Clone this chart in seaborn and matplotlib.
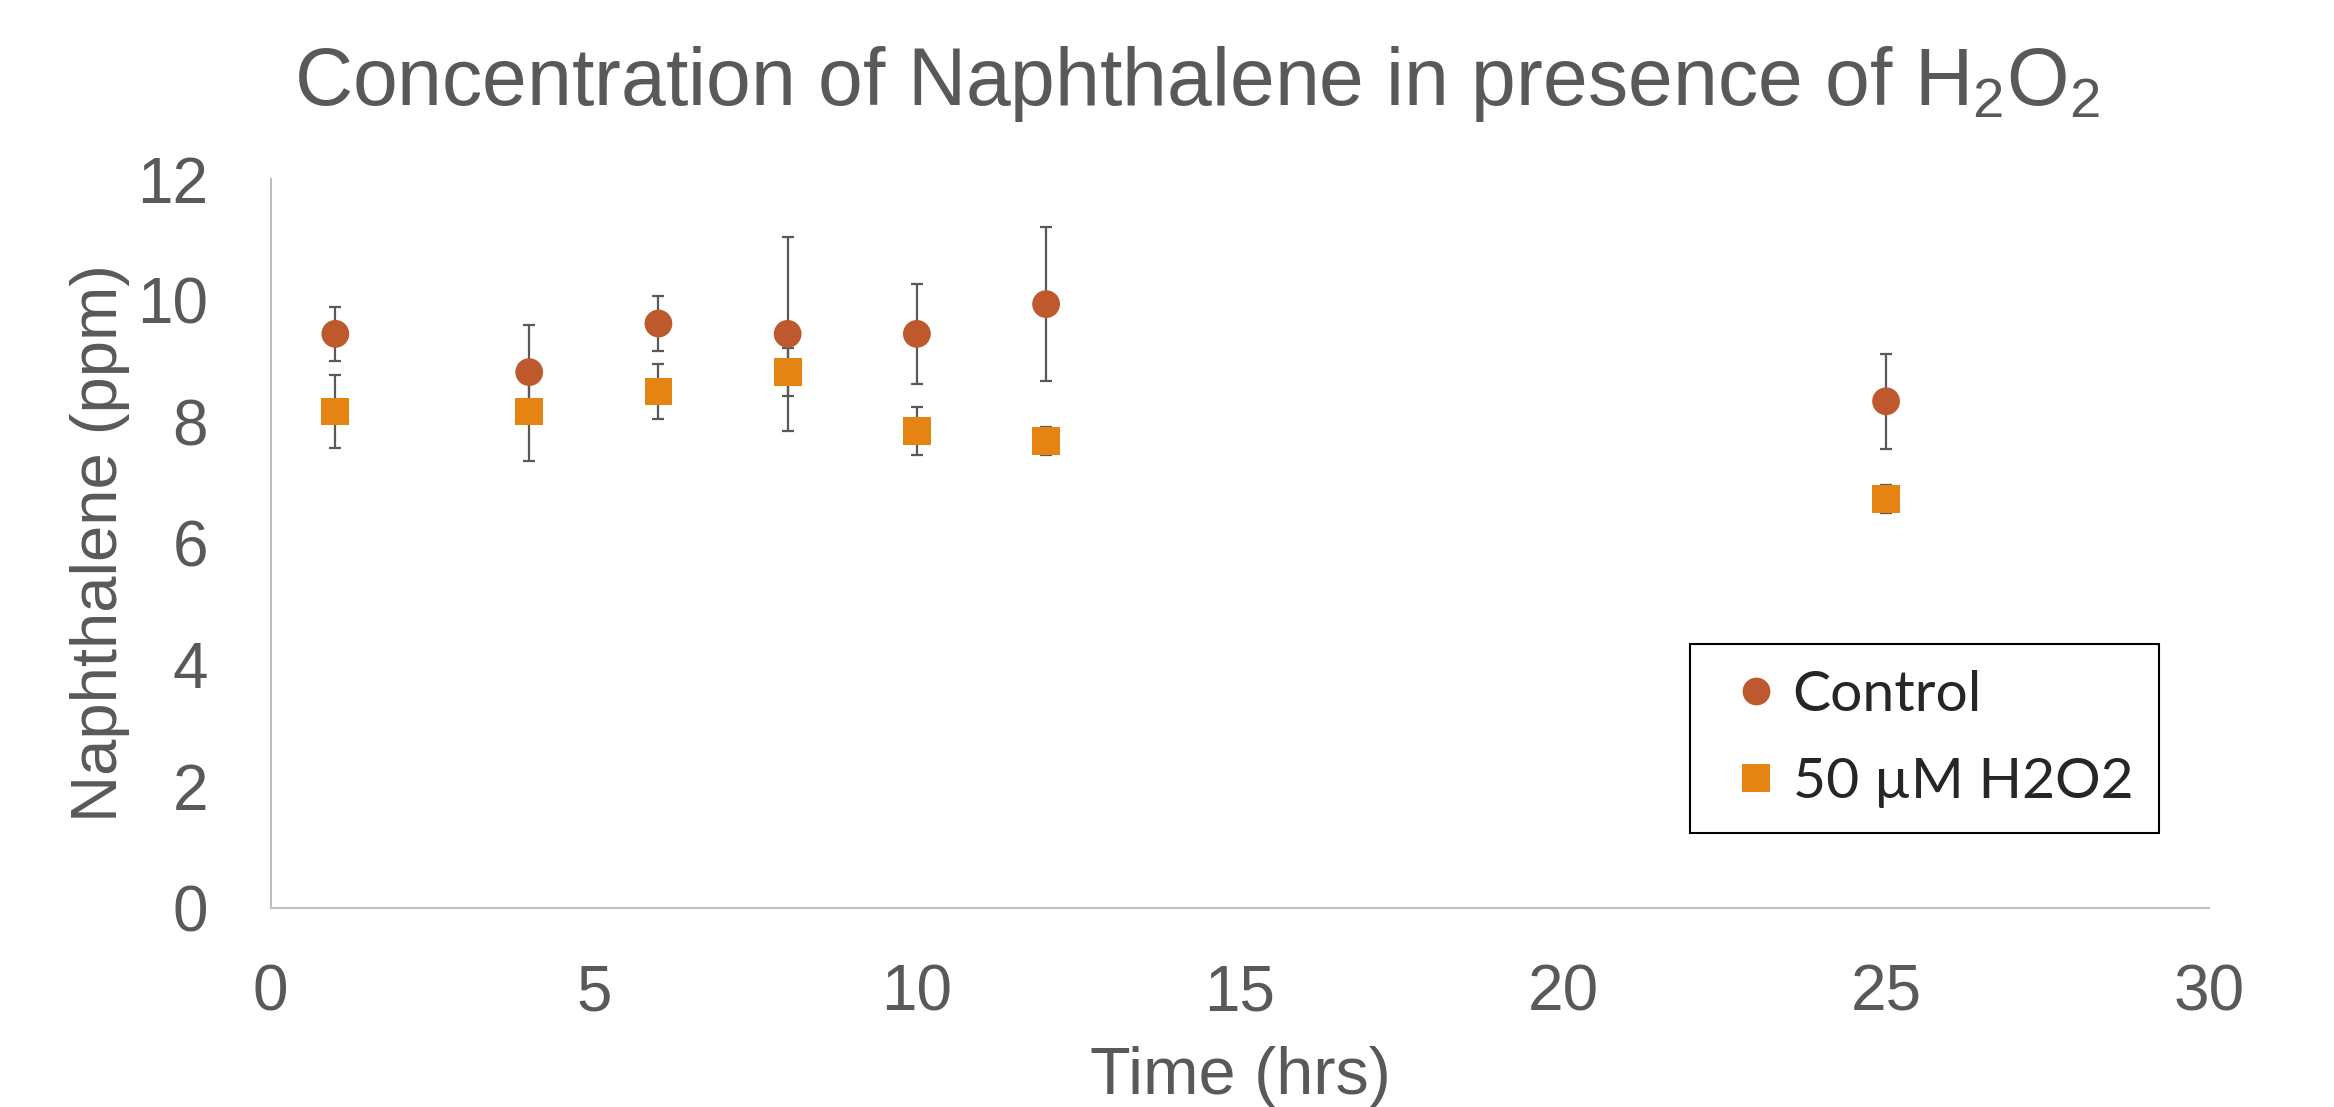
import matplotlib; matplotlib.use('Agg')
import pandas as pd
import numpy as np
import matplotlib.pyplot as plt
import seaborn as sns

# values
time_hrs = [1, 4, 6, 8, 10, 12, 25]
control_ppm = [9.45, 8.82, 9.62, 9.45, 9.45, 9.94, 8.34]
control_err = [0.45, 0.78, 0.45, 1.60, 0.82, 1.27, 0.78]
h2o2_ppm = [8.17, 8.17, 8.50, 8.82, 7.85, 7.69, 6.73]
h2o2_err = [0.60, 0.81, 0.45, 0.39, 0.40, 0.23, 0.23]
series_names = ['Control', '50 µM H2O2']

df = pd.concat([
    pd.DataFrame({'time': time_hrs, 'ppm': control_ppm, 'err': control_err, 'series': series_names[0]}),
    pd.DataFrame({'time': time_hrs, 'ppm': h2o2_ppm, 'err': h2o2_err, 'series': series_names[1]}),
], ignore_index=True)

sns.set_style('white')
plt.rcParams['font.family'] = ['Liberation Sans', 'DejaVu Sans']
plt.rcParams['mathtext.default'] = 'regular'

grey = '#595959'
palette = {series_names[0]: '#BE582D', series_names[1]: '#E58313'}
markers = {series_names[0]: 'o', series_names[1]: 's'}

fig = plt.figure(figsize=(23.34, 11.07), dpi=100)
ax = fig.add_axes([0.116, 0.180, 0.8305, 0.6583])

# error bars below the markers
ax.errorbar(df['time'], df['ppm'], yerr=df['err'], fmt='none', ecolor=grey,
            elinewidth=1.6, capsize=4.5, capthick=1.6, zorder=2)

sns.scatterplot(data=df, x='time', y='ppm', hue='series', style='series',
                palette=palette, markers=markers, s=400, linewidth=0,
                ax=ax, zorder=3)

ax.set_xlim(0, 30)
ax.set_ylim(0, 12)
ax.set_xticks(range(0, 31, 5))
ax.set_yticks(range(0, 13, 2))
ax.tick_params(axis='x', length=0, pad=40, labelsize=46, labelcolor=grey)
ax.tick_params(axis='y', length=0, pad=45, labelsize=46, labelcolor=grey)

for side in ['top', 'right']:
    ax.spines[side].set_visible(False)
for side in ['left', 'bottom']:
    ax.spines[side].set_color('#BFBFBF')
    ax.spines[side].set_linewidth(1.5)

ax.set_xlabel('Time (hrs)', fontsize=48, color=grey, labelpad=16)
ax.set_ylabel('Naphthalene (ppm)', fontsize=47, color=grey, labelpad=5)

fig.text(0.513, 0.924, 'Concentration of Naphthalene in presence of H$_2$O$_2$',
         ha='center', va='center', fontsize=58, color=grey)

sns.move_legend(ax, 'upper left', bbox_to_anchor=(0.7323, 0.3619), title=None,
                frameon=True, fancybox=False, edgecolor='black', framealpha=1,
                borderaxespad=0, borderpad=0.45, handlelength=1.4, handletextpad=-0.05,
                labelspacing=0.63, prop={'family': 'Lato', 'size': 41})
leg = ax.get_legend()
leg.get_frame().set_linewidth(1.5)

fig.savefig('out.png', dpi=100)
